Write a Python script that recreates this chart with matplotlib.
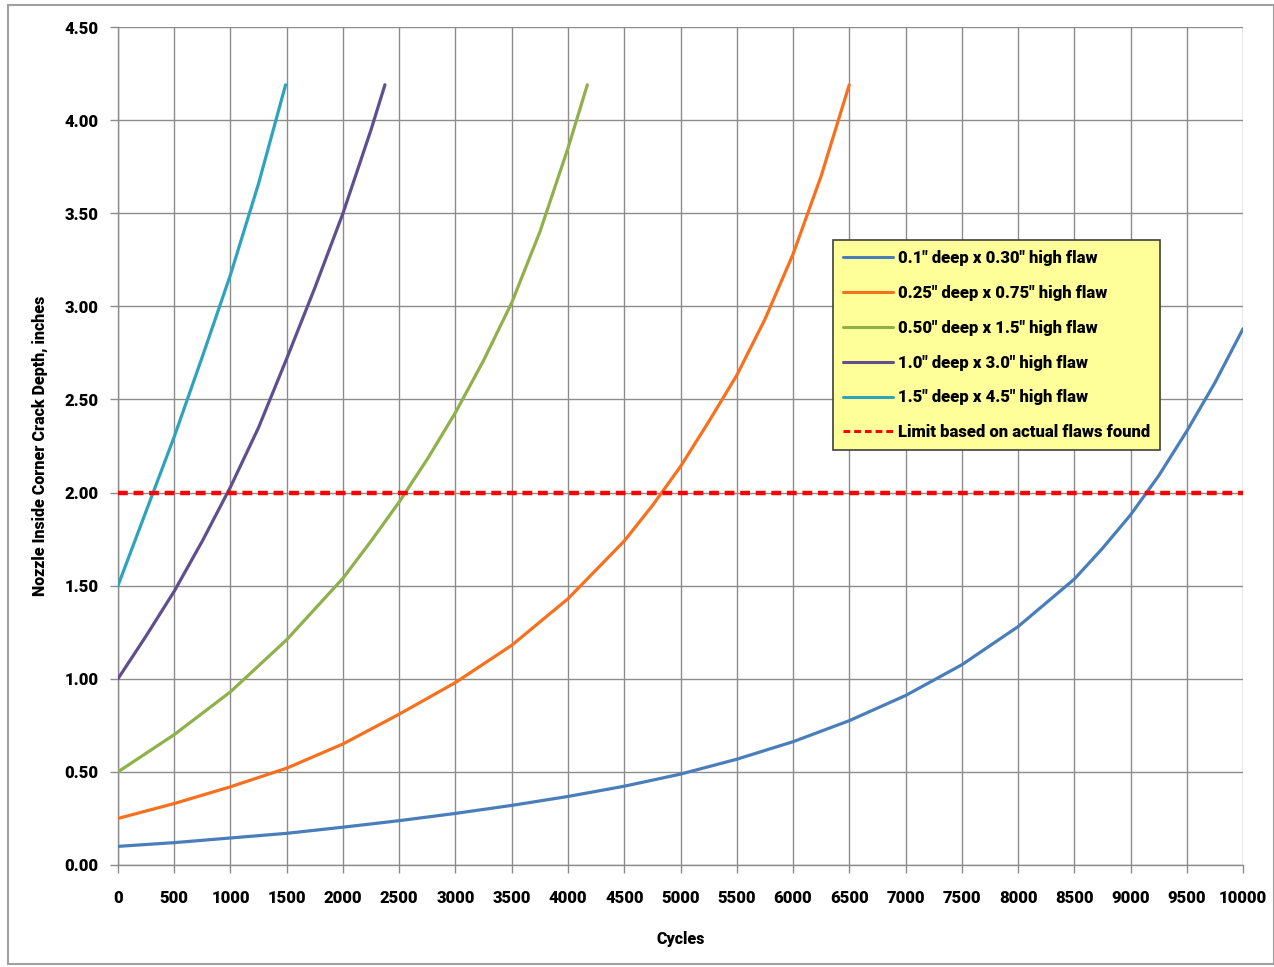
import matplotlib
matplotlib.use("Agg")
import matplotlib.pyplot as plt
from matplotlib.patches import Rectangle

# ---- data ----
cyc_01 = [0, 500, 1000, 1500, 2000, 2500, 3000, 3500, 4000, 4500, 5000, 5500,
          6000, 6500, 7000, 7500, 8000, 8500, 8750, 9000, 9250, 9500, 9750, 10000]
dep_01 = [0.10, 0.12, 0.145, 0.17, 0.203, 0.238, 0.277, 0.32, 0.368, 0.423, 0.488, 0.568,
          0.662, 0.775, 0.91, 1.075, 1.28, 1.535, 1.70, 1.88, 2.09, 2.33, 2.59, 2.88]

cyc_025 = [0, 500, 1000, 1500, 2000, 2500, 3000, 3500, 4000, 4500, 4750, 5000,
           5250, 5500, 5750, 6000, 6250, 6500]
dep_025 = [0.25, 0.33, 0.42, 0.52, 0.65, 0.81, 0.98, 1.18, 1.43, 1.74, 1.93, 2.14,
           2.38, 2.63, 2.93, 3.28, 3.70, 4.19]

cyc_050 = [0, 500, 1000, 1500, 2000, 2250, 2500, 2750, 3000, 3250, 3500, 3750, 4000, 4172]
dep_050 = [0.50, 0.70, 0.93, 1.21, 1.54, 1.74, 1.95, 2.18, 2.43, 2.71, 3.02, 3.40, 3.85, 4.19]

cyc_10 = [0, 250, 500, 750, 1000, 1250, 1500, 1750, 2000, 2250, 2373]
dep_10 = [1.0, 1.23, 1.47, 1.74, 2.03, 2.35, 2.72, 3.10, 3.50, 3.95, 4.19]

cyc_15 = [0, 250, 500, 750, 1000, 1250, 1490]
dep_15 = [1.5, 1.9, 2.30, 2.73, 3.17, 3.66, 4.19]

limit_x = [0, 10000]
limit_y = [2.0, 2.0]

labels = ['0.1" deep x 0.30" high flaw',
          '0.25" deep x 0.75" high flaw',
          '0.50" deep x 1.5" high flaw',
          '1.0" deep x 3.0" high flaw',
          '1.5" deep x 4.5" high flaw',
          'Limit based on actual flaws found']

x_ticks = list(range(0, 10001, 500))
y_ticks = [0.0, 0.5, 1.0, 1.5, 2.0, 2.5, 3.0, 3.5, 4.0, 4.5]

colors = ['#4A7EBB', '#F7701E', '#8FB04A', '#5E4F8E', '#2FA3BC', '#FF0000']

plt.rcParams['font.family'] = ['Roboto', 'DejaVu Sans']
W = 'heavy'

# ---- figure ----
fig = plt.figure(figsize=(12.74, 9.67), dpi=100)
fig.patches.append(Rectangle((0.006, 0.003), 0.994, 0.992, transform=fig.transFigure,
                             fill=False, edgecolor='#A0A0A0', linewidth=1.5))
ax = fig.add_axes([0.0926, 0.1055, 0.8831, 0.8665])

series = [(cyc_01, dep_01), (cyc_025, dep_025), (cyc_050, dep_050),
          (cyc_10, dep_10), (cyc_15, dep_15)]
for (xs, ys), c, lab in zip(series, colors[:5], labels[:5]):
    ax.plot(xs, ys, color=c, linewidth=2.3, label=lab, solid_capstyle='round',
            solid_joinstyle='round', zorder=3)
ax.plot(limit_x, limit_y, color=colors[5], linewidth=3.2, linestyle=(0, (2.2, 1.3)),
        label=labels[5], zorder=4)

ax.set_xlim(0, 10000)
ax.set_ylim(0, 4.5)
ax.set_xticks(x_ticks)
ax.set_yticks(y_ticks)
ax.set_xticklabels([str(v) for v in x_ticks])
ax.set_yticklabels([f"{v:.2f}" for v in y_ticks])
ax.grid(True, color='#8C8C8C', linewidth=1.0, zorder=0)
ax.set_axisbelow(True)
for s in ['top', 'right']:
    ax.spines[s].set_visible(False)
for s in ['left', 'bottom']:
    ax.spines[s].set_color('#8C8C8C')
    ax.spines[s].set_linewidth(1.0)
ax.tick_params(axis='both', which='major', direction='out', length=6, width=1,
               color='#8C8C8C', labelsize=12)
ax.tick_params(axis='x', pad=12)
ax.tick_params(axis='y', pad=8)
for t in ax.get_xticklabels() + ax.get_yticklabels():
    t.set_fontweight(W)

ax.set_xlabel('Cycles', fontsize=11.5, fontweight=W, labelpad=18)
ax.set_ylabel('Nozzle Inside Corner Crack Depth, inches', fontsize=11.5,
              fontweight=W, labelpad=12)

leg = ax.legend(loc='upper left', bbox_to_anchor=(0.6356, 0.7458), borderaxespad=0.0,
                frameon=True, fancybox=False, prop={'weight': W, 'size': 12},
                handlelength=3.0, labelspacing=1.13, borderpad=0.6, handletextpad=0.3)
leg.get_frame().set_facecolor('#FFFF99')
leg.get_frame().set_edgecolor('#404040')
leg.get_frame().set_linewidth(1.2)
leg.get_frame().set_alpha(1.0)
for h in leg.get_lines():
    h.set_linewidth(2.2)

fig.savefig('out.png', dpi=100, facecolor='white')
